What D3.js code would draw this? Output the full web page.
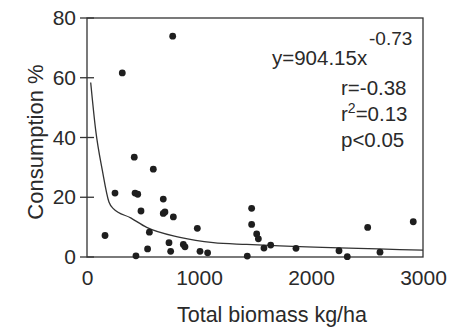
<!DOCTYPE html>
<html><head><meta charset="utf-8">
<script src="https://cdn.jsdelivr.net/npm/d3@7"></script>
<style>
body{margin:0;background:#fff;}
text{font-family:"Liberation Sans",Arial,Helvetica,sans-serif;fill:#2a2a2a;}
</style></head><body>
<svg id="c" width="450" height="330"></svg>
<script>
// Data
const biomass = [161,250,315,422,429,453,437,482,541,557,592,681,681,696,732,747,765,771,860,875,985,1009,1077,1431,1470,1470,1515,1530,1580,1640,1866,2250,2324,2506,2616,2913];
const consumption = [7.2,21.4,61.6,33.4,21.4,21.0,0.4,15.4,2.7,8.3,29.4,19.4,14.6,15.1,4.8,1.9,73.9,13.4,4.2,3.4,9.6,1.9,1.4,0.3,16.3,10.9,7.7,6.1,3.0,4.0,2.9,2.1,0.1,9.9,1.6,11.8];
const fitX = [33,78,137,196,235,390,533,830,1128,1426,1723,3000];
const fitY = [58.4,42.3,29.0,18.4,16.2,13.1,9.9,6.6,4.8,4.2,3.7,2.3];
const xTicks = [0,1000,2000,3000];
const yTicks = [0,20,40,60,80];

const svg = d3.select("#c");
const L=87,R=423,T=18,B=257;
const x = d3.scaleLinear().domain([0,3000]).range([L,R]);
const y = d3.scaleLinear().domain([0,80]).range([B,T]);
const ink = "#333";

// frame
svg.append("rect").attr("x",L).attr("y",T).attr("width",R-L).attr("height",B-T)
  .attr("fill","none").attr("stroke",ink).attr("stroke-width",1.3);

// y axis
const ya = svg.append("g").attr("transform",`translate(${L},0)`)
  .call(d3.axisLeft(y).tickValues(yTicks).tickSize(0).tickPadding(11));
ya.select(".domain").remove();
ya.selectAll("text").style("font-size","21px").attr("fill","#2a2a2a");
svg.selectAll(".ytk").data(yTicks).join("line").attr("class","ytk")
  .attr("x1",L-7).attr("x2",L+7).attr("y1",d=>y(d)).attr("y2",d=>y(d))
  .attr("stroke",ink).attr("stroke-width",1.3);

// x axis
const xa = svg.append("g").attr("transform",`translate(0,${B})`)
  .call(d3.axisBottom(x).tickValues(xTicks).tickSize(0).tickPadding(13).tickFormat(d3.format("d")));
xa.select(".domain").remove();
xa.selectAll("text").style("font-size","21px").attr("fill","#2a2a2a");

// fitted curve
const fit = fitX.map((v,i)=>[v,fitY[i]]);
svg.append("path").datum(fit)
  .attr("d", d3.line().x(d=>x(d[0])).y(d=>y(d[1])).curve(d3.curveMonotoneX))
  .attr("fill","none").attr("stroke",ink).attr("stroke-width",1.3);

// points
svg.selectAll(".pt").data(biomass.map((v,i)=>[v,consumption[i]])).join("circle")
  .attr("class","pt").attr("cx",d=>x(d[0])).attr("cy",d=>y(d[1])).attr("r",3.4).attr("fill","#1e1e1e");

// annotations
const fs = "20.5px";
svg.append("text").attr("x",272).attr("y",65).style("font-size",fs).text("y=904.15x");
svg.append("text").attr("x",369).attr("y",45).style("font-size","19px").text("-0.73");
svg.append("text").attr("x",341).attr("y",95).style("font-size",fs).text("r=-0.38");
const t2 = svg.append("text").attr("x",341).attr("y",121).style("font-size",fs);
t2.append("tspan").text("r");
t2.append("tspan").attr("dy",-8).style("font-size","14px").text("2");
t2.append("tspan").attr("dy",8).text("=0.13");
svg.append("text").attr("x",341).attr("y",147).style("font-size",fs).text("p<0.05");

// axis titles
svg.append("text").attr("x",272).attr("y",322).attr("text-anchor","middle").style("font-size","21.5px").text("Total biomass kg/ha");
svg.append("text").attr("transform","translate(43,142) rotate(-90)").attr("text-anchor","middle").style("font-size","22px").text("Consumption %");
</script></body></html>
